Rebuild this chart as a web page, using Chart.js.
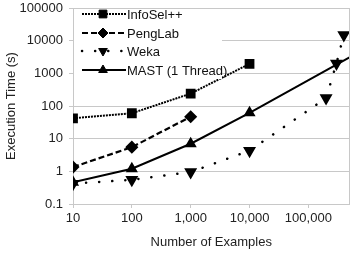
<!DOCTYPE html>
<html><head><meta charset="utf-8">
<script src="https://cdn.jsdelivr.net/npm/chart.js@4.4.1/dist/chart.umd.min.js"></script>
<style>html,body{margin:0;padding:0;background:#fff}#w{width:357px;height:254px}</style>
</head><body><div id="w"><canvas id="c"></canvas></div>
<script>
const xTicks = [10, 100, 1000, 10000, 100000];
const yTicks = [0.1, 1, 10, 100, 1000, 10000, 100000];
const seriesNames = ["InfoSel++", "PengLab", "Weka", "MAST (1 Thread)"];
const infoX = [10, 100, 1000, 10000];
const infoY = [42, 60, 240, 1950];
const pengX = [10, 100, 1000];
const pengY = [1.35, 5.5, 47];
const wekaX = [10, 100, 1000, 10000, 200000, 300000, 400000];
const wekaY = [0.42, 0.55, 0.95, 4.3, 175, 2000, 15000];
const mastX = [10, 100, 1000, 10000, 500000];
const mastY = [0.46, 1.2, 7, 62, 3100];

const pts = (xs, ys) => xs.map((x, i) => ({x: x, y: ys[i]}));
const black = '#000';
const FONT = '"Liberation Sans", Arial, sans-serif';
const datasets = [
  {label: seriesNames[0], data: pts(infoX, infoY), borderColor: black, backgroundColor: black,
   borderWidth: 2, borderDash: [2, 1], pointStyle: 'rect', pointRadius: 5.5, pointRotation: 0},
  {label: seriesNames[1], data: pts(pengX, pengY), borderColor: black, backgroundColor: black,
   borderWidth: 2.2, borderDash: [6, 3], pointStyle: 'rectRot', pointRadius: 5, pointRotation: 0},
  {label: seriesNames[2], data: pts(wekaX, wekaY), borderColor: black, backgroundColor: black,
   borderWidth: 2.5, borderDash: [0.1, 13], borderCapStyle: 'round', pointStyle: 'triangle', pointRadius: 5, pointRotation: 180},
  {label: seriesNames[3], data: pts(mastX, mastY), borderColor: black, backgroundColor: black,
   borderWidth: 2, borderDash: [], pointStyle: 'triangle', pointRadius: mastX.map((x, i) => i === mastX.length - 1 ? 0 : 5), pointRotation: 0}
];

const fmt = v => Number(v).toLocaleString('en-US');

const legendPlugin = {
  id: 'customLegend',
  afterDatasetsDraw(chart) {
    const ctx = chart.ctx;
    const area = chart.chartArea;
    ctx.save();
    ctx.fillStyle = '#fff';
    ctx.fillRect(area.left + 1, area.top + 1, 148, 70);
    const rows = [14, 33, 51, 70];
    chart.data.datasets.forEach((ds, i) => {
      const y = rows[i];
      ctx.save();
      ctx.strokeStyle = ds.borderColor;
      ctx.lineWidth = ds.borderWidth;
      ctx.setLineDash(ds.borderDash || []);
      ctx.lineCap = ds.borderCapStyle || 'butt';
      ctx.beginPath();
      ctx.moveTo(82, y);
      ctx.lineTo(126, y);
      ctx.stroke();
      ctx.restore();
      ctx.save();
      ctx.fillStyle = black;
      ctx.strokeStyle = black;
      ctx.lineWidth = 1;
      Chart.helpers.drawPoint(ctx, {pointStyle: ds.pointStyle, radius: i === 0 ? 5.5 : 5,
        rotation: ds.pointRotation, borderWidth: 1}, 103, y);
      ctx.restore();
      ctx.fillStyle = '#111';
      ctx.font = '13px ' + FONT;
      ctx.textBaseline = 'middle';
      ctx.textAlign = 'left';
      ctx.fillText(ds.label, 127, y + 1);
    });
    ctx.strokeStyle = '#c8c8c8';
    ctx.lineWidth = 1;
    ctx.beginPath();
    ctx.moveTo(Math.round(area.right) - 0.5, area.top);
    ctx.lineTo(Math.round(area.right) - 0.5, area.bottom);
    ctx.stroke();
    ctx.restore();
  }
};

new Chart(document.getElementById('c'), {
  type: 'line',
  data: {datasets: datasets},
  plugins: [legendPlugin],
  options: {
    responsive: true,
    maintainAspectRatio: false,
    animation: false,
    layout: {padding: {top: 8, right: 3, left: 0, bottom: 0}},
    plugins: {legend: {display: false}, tooltip: {enabled: false}},
    elements: {line: {tension: 0}, point: {borderWidth: 1, borderColor: black, backgroundColor: black}},
    scales: {
      x: {
        type: 'logarithmic', min: 10, max: 500000,
        afterBuildTicks: s => { s.ticks = xTicks.map(v => ({value: v})); },
        afterFit: s => { s.height = 50; s.paddingRight = 0; s.paddingLeft = 0; },
        ticks: {callback: v => fmt(v), color: '#222', autoSkip: false, maxRotation: 0, padding: 3,
          font: {family: FONT, size: 13}},
        grid: {display: true, drawOnChartArea: false, color: '#c8c8c8', tickLength: 4},
        border: {display: true, color: '#c8c8c8'},
        title: {display: true, text: 'Number of Examples', color: '#222',
          font: {family: FONT, size: 13}, padding: {top: 6}}
      },
      y: {
        type: 'logarithmic', min: 0.1, max: 100000,
        afterBuildTicks: s => { s.ticks = yTicks.map(v => ({value: v})); },
        afterFit: s => { s.width = 73; s.paddingTop = 0; s.paddingBottom = 0; },
        ticks: {callback: v => String(v), color: '#222', autoSkip: false, padding: 6,
          font: {family: FONT, size: 13}},
        grid: {color: '#c8c8c8', tickLength: 4, drawTicks: true},
        border: {display: true, color: '#c8c8c8'},
        title: {display: true, text: 'Execution Time (s)', color: '#222',
          font: {family: FONT, size: 13}, padding: {bottom: 2}}
      }
    }
  }
});
</script>
</body></html>
